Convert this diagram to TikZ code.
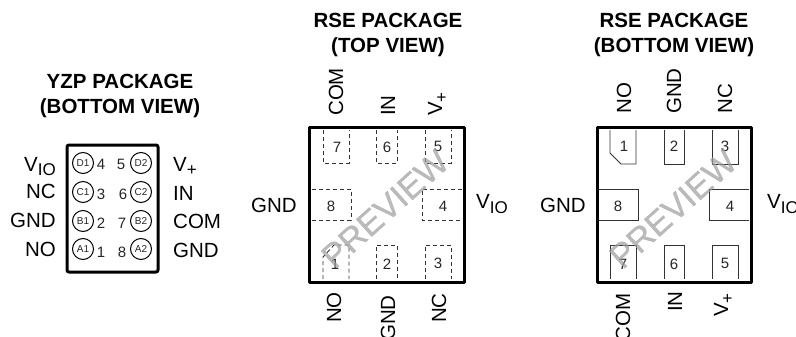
\documentclass[tikz,border=0pt]{standalone}
\usepackage{fontspec}
\setmainfont{Liberation Sans}
\newfontfamily\stampfont[FakeBold=0.6]{Liberation Sans}
\newcommand{\vio}{V\raisebox{-5pt}{\fontsize{17}{17}\selectfont IO}}
\newcommand{\vplus}{V\raisebox{-5pt}{\fontsize{17}{17}\selectfont +}}

\begin{document}
\begin{tikzpicture}[x=1pt,y=-1pt,
  title node/.style={font=\fontsize{20.5}{25}\selectfont\bfseries,align=center,inner sep=0pt,text=black},
  pin node/.style={font=\fontsize{20.5}{24}\selectfont,inner sep=0pt,text=black},
  num node/.style={font=\fontsize{15}{17}\selectfont,inner sep=0pt,text=black!85},
  ball node/.style={circle,draw=black,line width=1pt,minimum size=21pt,inner sep=0pt,font=\fontsize{10}{12}\selectfont,text=black!85},
  body/.style={line width=3pt,draw=black,line join=round},
  pad/.style={line width=0.9pt,draw=black!80},
  pad top/.style={pad,dash pattern=on 4pt off 3pt},
  stamp node/.style={font=\fontsize{34}{36}\stampfont,inner sep=0pt,rotate=42,text=black!38,opacity=0.7}]
\useasboundingbox (0,0) rectangle (796,337);
\clip (0,0) rectangle (796,337);

% YZP package
\node[title node] (t1) at (120,96) {YZP PACKAGE\\(BOTTOM VIEW)};
\draw[body,rounded corners=2pt] (67,145) rectangle (158,272);
\node[ball node] (d1) at (83,163) {D1};
\node[ball node] (d2) at (141,163) {D2};
\node[ball node] (c1) at (83,192) {C1};
\node[ball node] (c2) at (141,192) {C2};
\node[ball node] (b1) at (83,221) {B1};
\node[ball node] (b2) at (141,221) {B2};
\node[ball node] (a1) at (83,249) {A1};
\node[ball node] (a2) at (141,249) {A2};
\node[num node] (n4) at (101,164) {4};
\node[num node] (n5) at (121,164) {5};
\node[num node] (n3) at (101,194) {3};
\node[num node] (n6) at (123,194) {6};
\node[num node] (n2) at (101,223) {2};
\node[num node] (n7) at (122,223) {7};
\node[num node] (n1) at (101,252) {1};
\node[num node] (n8) at (122,252) {8};
\node[pin node,anchor=base east] (l1) at (56,171) {\vio};
\node[pin node,anchor=base east] (l2) at (56,198) {NC};
\node[pin node,anchor=base east] (l3) at (56,227) {GND};
\node[pin node,anchor=base east] (l4) at (56,256) {NO};
\node[pin node,anchor=base west] (r1) at (173,171) {\vplus};
\node[pin node,anchor=base west] (r2) at (173,200) {IN};
\node[pin node,anchor=base west] (r3) at (173,228) {COM};
\node[pin node,anchor=base west] (r4) at (173,257) {GND};

% RSE top view
\node[title node] (t2) at (388,35) {RSE PACKAGE\\(TOP  VIEW)};
\draw[pad top] (323,130) -- (323,163) -- (349,163) -- (349,130);
\draw[pad top] (376,130) -- (376,163) -- (397,163) -- (397,130);
\draw[pad top] (425,130) -- (425,163) -- (451,163) -- (451,130);
\draw[pad top] (312,189) -- (351,189) -- (351,220) -- (312,220);
\draw[pad top] (462,189) -- (422,189) -- (422,220) -- (462,220);
\draw[pad top] (323,279) -- (323,257) -- (334,245) -- (349,245) -- (349,279);
\draw[pad top] (376,279) -- (376,245) -- (397,245) -- (397,279);
\draw[pad top] (425,279) -- (425,245) -- (451,245) -- (451,279);
\draw[body] (309,127) rectangle (464,282);
\node[num node] (p7) at (337,147) {7};
\node[num node] (p6) at (387,147) {6};
\node[num node] (p5) at (438,146) {5};
\node[num node] (p8) at (331,206) {8};
\node[num node] (p4) at (443,206) {4};
\node[num node] (p1) at (335,264) {1};
\node[num node] (p2) at (387,264) {2};
\node[num node] (p3) at (438,263) {3};
\node[pin node,rotate=90,anchor=base west] (tcom) at (343,116) {COM};
\node[pin node,rotate=90,anchor=base west] (tin) at (395,116) {IN};
\node[pin node,rotate=90,anchor=base west] (tv) at (442,116) {\vplus};
\node[pin node,rotate=90,anchor=base west] (tno) at (341,323) {NO};
\node[pin node,rotate=90,anchor=base east] (tgnd) at (395,295) {GND};
\node[pin node,rotate=90,anchor=base west] (tnc) at (446,323) {NC};
\node[pin node,anchor=base east] (tgnd2) at (297,212) {GND};
\node[pin node,anchor=base west] (tvio) at (476,208) {\vio};
\node[stamp node] (s1) at (385,209) {PREVIEW};

% RSE bottom view
\node[title node] (t3) at (674,35) {RSE PACKAGE\\(BOTTOM VIEW)};
\draw[pad] (610,130) -- (610,153) -- (621,164) -- (636,164) -- (636,130);
\draw[pad] (664,130) -- (664,164) -- (684,164) -- (684,130);
\draw[pad] (712,130) -- (712,164) -- (738,164) -- (738,130);
\draw[pad] (599,189) -- (638,189) -- (638,220) -- (599,220);
\draw[pad] (749,189) -- (709,189) -- (709,220) -- (749,220);
\draw[pad] (610,279) -- (610,245) -- (636,245) -- (636,279);
\draw[pad] (664,279) -- (664,245) -- (684,245) -- (684,279);
\draw[pad] (712,279) -- (712,245) -- (738,245) -- (738,279);
\draw[body] (597,127) rectangle (751,282);
\node[num node] (q1) at (624,146) {1};
\node[num node] (q2) at (674,146) {2};
\node[num node] (q3) at (725,146) {3};
\node[num node] (q8) at (618,206) {8};
\node[num node] (q4) at (730,206) {4};
\node[num node] (q7) at (623,264) {7};
\node[num node] (q6) at (674,264) {6};
\node[num node] (q5) at (725,263) {5};
\node[pin node,rotate=90,anchor=base west] (bno) at (631,114) {NO};
\node[pin node,rotate=90,anchor=base west] (bgnd) at (681,114) {GND};
\node[pin node,rotate=90,anchor=base west] (bnc) at (732,114) {NC};
\node[pin node,rotate=90,anchor=base east] (bcom) at (630,293) {COM};
\node[pin node,rotate=90,anchor=base west] (bin) at (682,312) {IN};
\node[pin node,rotate=90,anchor=base west] (bv) at (728,317) {\vplus};
\node[pin node,anchor=base east] (bgnd2) at (586,212) {GND};
\node[pin node,anchor=base west] (bvio) at (767,208) {\vio};
\node[stamp node] (s2) at (673,209) {PREVIEW};
\end{tikzpicture}
\end{document}
